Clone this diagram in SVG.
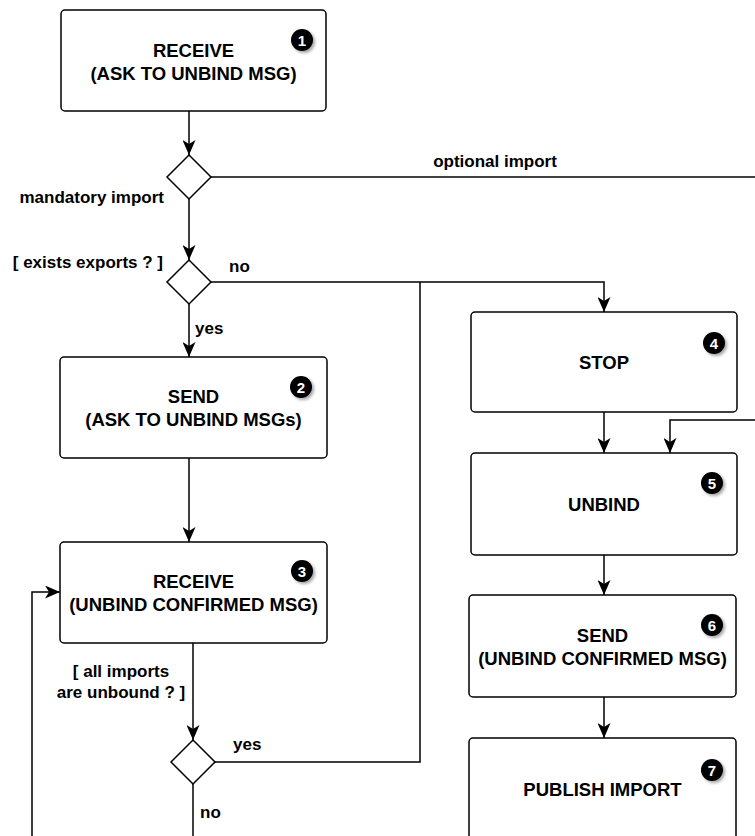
<svg xmlns="http://www.w3.org/2000/svg" width="755" height="836" viewBox="0 0 755 836">
<style>
  .box { fill: #ffffff; stroke: #000000; stroke-width: 1.5; }
  .dia { fill: #ffffff; stroke: #000000; stroke-width: 1.5; }
  .t { font-family: "Liberation Sans", Arial, sans-serif; font-weight: bold; font-size: 18.5px; fill: #000000; text-anchor: middle; }
  .lbl { font-family: "Liberation Sans", Arial, sans-serif; font-weight: bold; font-size: 17px; fill: #000000; }
  .badge { fill: #000000; filter: url(#sh); }
  .bn { font-family: "Liberation Sans", Arial, sans-serif; font-weight: bold; font-size: 15px; fill: #ffffff; text-anchor: middle; }
  .c { fill: none; stroke: #000000; stroke-width: 1.5; }
  .a { marker-end: url(#arr); }
</style>
<defs>
  <marker id="arr" markerUnits="userSpaceOnUse" markerWidth="15" markerHeight="13" refX="15" refY="6.5" orient="auto">
    <path d="M0,0 L15,6.5 L0,13 L4,6.5 z" fill="#000000"/>
  </marker>
  <filter id="sh" x="-50%" y="-50%" width="200%" height="200%">
    <feDropShadow dx="2" dy="2" stdDeviation="1.5" flood-color="#000000" flood-opacity="0.35"/>
  </filter>
</defs>

<g id="connectors">
  <path class="c a" d="M189,111 L189,155"/>
  <path class="c" d="M211,177 L760,177"/>
  <path class="c a" d="M189,199 L189,260"/>
  <path class="c a" d="M211,282 L604,282 L604,312"/>
  <path class="c a" d="M189,304 L189,357"/>
  <path class="c a" d="M189,458 L189,542"/>
  <path class="c a" d="M193,643 L193,740"/>
  <path class="c" d="M215,762 L420,762 L420,282"/>
  <path class="c" d="M193,784 L193,840"/>
  <path class="c a" d="M32,840 L32,592 L60,592"/>
  <path class="c a" d="M604,412 L604,453"/>
  <path class="c a" d="M760,420 L670,420 L670,453"/>
  <path class="c a" d="M604,555 L604,595"/>
  <path class="c a" d="M604,697 L604,738"/>
  <text class="lbl" x="495" y="167" text-anchor="middle">optional import</text>
  <text class="lbl" x="164" y="203" text-anchor="end">mandatory import</text>
  <text class="lbl" x="163" y="268" text-anchor="end">[ exists exports ? ]</text>
  <text class="lbl" x="229" y="272">no</text>
  <text class="lbl" x="195" y="334">yes</text>
  <text class="lbl" x="121" y="677" text-anchor="middle">[ all imports</text>
  <text class="lbl" x="121" y="698" text-anchor="middle">are unbound ? ]</text>
  <text class="lbl" x="233" y="750">yes</text>
  <text class="lbl" x="200" y="818">no</text>
</g>

<g id="node1">
  <rect class="box" x="61" y="10" width="265" height="101" rx="4"/>
  <text class="t" x="193.5" y="57">RECEIVE</text>
  <text class="t" x="193.5" y="80">(ASK TO UNBIND MSG)</text>
  <circle class="badge" cx="302" cy="40" r="11"/>
  <text class="bn" x="302" y="45.5">1</text>
</g>

<g id="decision1">
  <polygon class="dia" points="189,155 211,177 189,199 167,177"/>
</g>

<g id="decision2">
  <polygon class="dia" points="189,260 211,282 189,304 167,282"/>
</g>

<g id="node2">
  <rect class="box" x="60" y="357" width="267" height="101" rx="4"/>
  <text class="t" x="193.5" y="403">SEND</text>
  <text class="t" x="193.5" y="426">(ASK TO UNBIND MSGs)</text>
  <circle class="badge" cx="301" cy="387" r="11"/>
  <text class="bn" x="301" y="392.5">2</text>
</g>

<g id="node3">
  <rect class="box" x="60" y="542" width="267" height="101" rx="4"/>
  <text class="t" x="193.5" y="588">RECEIVE</text>
  <text class="t" x="193.5" y="611">(UNBIND CONFIRMED MSG)</text>
  <circle class="badge" cx="302" cy="571" r="11"/>
  <text class="bn" x="302" y="576.5">3</text>
</g>

<g id="decision3">
  <polygon class="dia" points="193,740 215,762 193,784 171,762"/>
</g>

<g id="node4">
  <rect class="box" x="471" y="312" width="266" height="100" rx="4"/>
  <text class="t" x="604" y="369">STOP</text>
  <circle class="badge" cx="714" cy="343" r="11"/>
  <text class="bn" x="714" y="348.5">4</text>
</g>

<g id="node5">
  <rect class="box" x="471" y="453" width="266" height="102" rx="4"/>
  <text class="t" x="604" y="511">UNBIND</text>
  <circle class="badge" cx="712" cy="483" r="11"/>
  <text class="bn" x="712" y="488.5">5</text>
</g>

<g id="node6">
  <rect class="box" x="469" y="595" width="267" height="102" rx="4"/>
  <text class="t" x="602.5" y="642">SEND</text>
  <text class="t" x="602.5" y="665">(UNBIND CONFIRMED MSG)</text>
  <circle class="badge" cx="712" cy="625" r="11"/>
  <text class="bn" x="712" y="630.5">6</text>
</g>

<g id="node7">
  <rect class="box" x="469" y="738" width="267" height="102" rx="4"/>
  <text class="t" x="602.5" y="796">PUBLISH IMPORT</text>
  <circle class="badge" cx="712" cy="770" r="11"/>
  <text class="bn" x="712" y="775.5">7</text>
</g>
</svg>
